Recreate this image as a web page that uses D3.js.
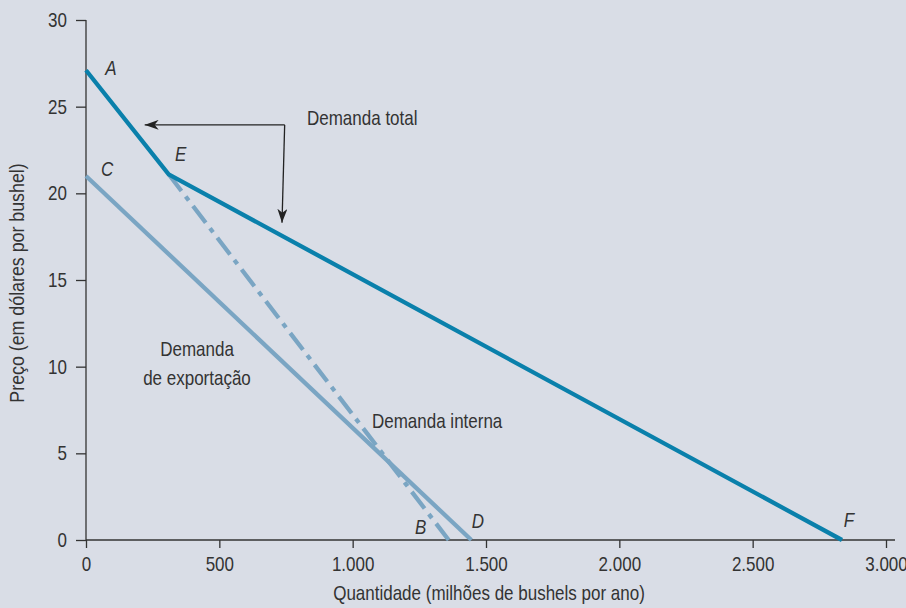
<!DOCTYPE html>
<html>
<head>
<meta charset="utf-8">
<script src="https://cdn.jsdelivr.net/npm/d3@7"></script>
<style>
  html, body { margin: 0; padding: 0; background: #d9dde6; }
  svg { display: block; }
  text { font-family: "Liberation Sans", Arial, sans-serif; fill: #333; }
</style>
</head>
<body>
<svg id="chart" width="906" height="608"></svg>
<script>
// ---- Data ----
const xTicks = [0, 500, 1000, 1500, 2000, 2500, 3000];
const yTicks = [0, 5, 10, 15, 20, 25, 30];
const totalDemand = [ {q: 0, p: 27.1}, {q: 310, p: 21.1}, {q: 2835, p: 0} ];   // A - E - F
const exportDemand = [ {q: 0, p: 21.0}, {q: 1445, p: 0} ];                     // C - D
const domesticDemand = [ {q: 310, p: 21.1}, {q: 1360, p: 0} ];                 // E - B
const pointLabels = [
  {name: "A", q: 72, p: 26.8},
  {name: "E", q: 334, p: 21.85},
  {name: "C", q: 56, p: 21.0},
  {name: "B", q: 1234, p: 0.35},
  {name: "D", q: 1447, p: 0.7},
  {name: "F", q: 2842, p: 0.75}
];
const xTitle = "Quantidade (milhões de bushels por ano)";
const yTitle = "Preço (em dólares por bushel)";

// ---- Layout ----
const svg = d3.select("#chart");
const x = d3.scaleLinear().domain([0, 3000]).range([86, 886]);
const y = d3.scaleLinear().domain([0, 30]).range([540, 20]);
const locale = d3.formatLocale({decimal: ",", thousands: ".", grouping: [3], currency: ["", ""]});
const fmt = locale.format(",d");
const FS = 20;
const SX = 0.85;   // horizontal condensing to mimic a condensed typeface
const cond = (ax) => `translate(${ax},0) scale(${SX},1) translate(${-ax},0)`;

// Axes
const gx = svg.append("g").attr("transform", `translate(0,${y(0)})`)
  .call(d3.axisBottom(x).tickValues(xTicks).tickFormat(fmt).tickSize(8).tickSizeOuter(0).tickPadding(9));
const gy = svg.append("g").attr("transform", `translate(${x(0)},0)`)
  .call(d3.axisLeft(y).tickValues(yTicks).tickSize(10).tickSizeOuter(0).tickPadding(9));
[gx, gy].forEach(g => {
  g.selectAll("path.domain").remove();
  g.selectAll("line").attr("stroke", "#333").attr("stroke-width", 1.3);
  g.selectAll("text").style("font-size", FS + "px").attr("fill", "#333")
    .attr("transform", function() { return cond(+d3.select(this).attr("x") || 0); });
});
// axis lines (x axis extends a little past last tick)
svg.append("line").attr("x1", x(0)).attr("x2", x(3000) + 9)
  .attr("y1", y(0)).attr("y2", y(0)).attr("stroke", "#333").attr("stroke-width", 1.3);
svg.append("line").attr("x1", x(0)).attr("x2", x(0))
  .attr("y1", y(30)).attr("y2", y(0)).attr("stroke", "#333").attr("stroke-width", 1.3);

// Axis titles
const xtx = (x(0) + x(3000)) / 2 + 3;
svg.append("text").attr("x", xtx).attr("y", 600).attr("transform", cond(xtx))
  .attr("text-anchor", "middle").style("font-size", FS + "px").text(xTitle);
svg.append("text").attr("transform", `translate(24,283) rotate(-90) scale(${SX + 0.04},1)`)
  .attr("text-anchor", "middle").style("font-size", FS + "px").text(yTitle);

// Lines
const line = d3.line().x(d => x(d.q)).y(d => y(d.p));
const light = "#7aa5c3", dark = "#0a80ab";
svg.append("path").datum(exportDemand).attr("d", line)
  .attr("fill", "none").attr("stroke", light).attr("stroke-width", 4.3);
svg.append("path").datum(domesticDemand).attr("d", line)
  .attr("fill", "none").attr("stroke", light).attr("stroke-width", 4.3)
  .attr("stroke-dasharray", "21,7,5,7");
svg.append("path").datum(totalDemand).attr("d", line)
  .attr("fill", "none").attr("stroke", dark).attr("stroke-width", 4.3)
  .attr("stroke-linejoin", "miter");

// Point labels
svg.selectAll("text.pt").data(pointLabels).enter().append("text")
  .attr("class", "pt")
  .attr("x", d => x(d.q)).attr("y", d => y(d.p))
  .attr("transform", d => cond(x(d.q)))
  .attr("text-anchor", "start")
  .style("font-size", FS + "px").style("font-style", "italic")
  .text(d => d.name);

// Annotations
svg.append("text").attr("x", 307).attr("y", 125).attr("transform", cond(307))
  .style("font-size", FS + "px").text("Demanda total");
svg.append("text").attr("x", 372).attr("y", 428).attr("transform", cond(372))
  .style("font-size", FS + "px").text("Demanda interna");
const exp = svg.append("text").attr("text-anchor", "middle").attr("transform", cond(197))
  .style("font-size", FS + "px");
exp.append("tspan").attr("x", 197).attr("y", 356).text("Demanda");
exp.append("tspan").attr("x", 197).attr("y", 385).text("de exportação");

// Arrows
const defs = svg.append("defs");
defs.append("marker").attr("id", "arr").attr("viewBox", "0 0 14 10")
  .attr("refX", 14).attr("refY", 5).attr("markerWidth", 14).attr("markerHeight", 10)
  .attr("markerUnits", "userSpaceOnUse").attr("orient", "auto")
  .append("path").attr("d", "M0,0 L14,5 L0,10 L4,5 Z").attr("fill", "#222");
const corner = [x(745), y(23.95)];
svg.append("line").attr("x1", corner[0]).attr("y1", corner[1])
  .attr("x2", x(220)).attr("y2", corner[1])
  .attr("stroke", "#222").attr("stroke-width", 1.3).attr("marker-end", "url(#arr)");
svg.append("line").attr("x1", corner[0]).attr("y1", corner[1])
  .attr("x2", x(735)).attr("y2", y(18.3))
  .attr("stroke", "#222").attr("stroke-width", 1.3).attr("marker-end", "url(#arr)");
</script>
</body>
</html>
